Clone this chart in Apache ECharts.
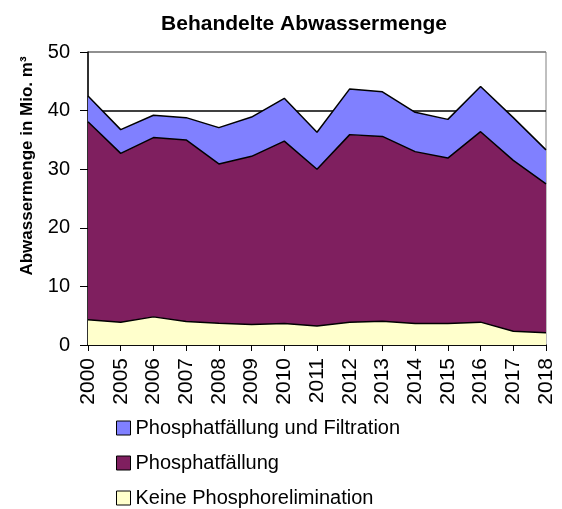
<!DOCTYPE html>
<html>
<head>
<meta charset="utf-8">
<script src="https://cdn.jsdelivr.net/npm/echarts@6/dist/echarts.min.js"></script>
<style>
  html, body { margin: 0; padding: 0; background: #fff; }
  #chart { width: 562px; height: 509px; }
</style>
</head>
<body>
<div id="chart"></div>
<script>
// data
const years = ['2000', '2005', '2006', '2007', '2008', '2009', '2010', '2011', '2012', '2013', '2014', '2015', '2016', '2017', '2018'];
const keinePhosphor = [4.3, 3.9, 4.8, 4.0, 3.7, 3.5, 3.65, 3.25, 3.9, 4.05, 3.65, 3.65, 3.9, 2.35, 2.1];
const phosphatfaellung = [33.8, 28.8, 30.6, 31.0, 27.2, 28.7, 31.15, 26.75, 32.0, 31.55, 29.35, 28.25, 32.5, 29.15, 25.4];
const mitFiltration = [4.4, 4.05, 3.8, 3.8, 6.2, 6.7, 7.3, 6.3, 7.8, 7.6, 6.7, 6.6, 7.7, 7.3, 5.8];
const yTicks = [0, 10, 20, 30, 40, 50];
const legendNames = ['Phosphatfällung und Filtration', 'Phosphatfällung', 'Keine Phosphorelimination'];

const chart = echarts.init(document.getElementById('chart'));
const font = '"Liberation Sans", Arial, sans-serif';

const areaSeries = (name, data, color) => ({
  name: name,
  type: 'line',
  stack: 'total',
  data: data,
  symbol: 'none',
  lineStyle: { color: '#000', width: 1.5 },
  itemStyle: { color: color },
  areaStyle: { color: color, opacity: 1 },
  emphasis: { disabled: true },
  animation: false,
});

chart.setOption({
  textStyle: { fontFamily: font },
  title: {
    text: 'Behandelte Abwassermenge',
    left: 299,
    textAlign: 'center',
    top: 9,
    textStyle: { fontFamily: font, fontSize: 21, fontWeight: 'bold', color: '#000' },
  },
  // y axis title sits above the middle of the axis, so it is drawn as a graphic
  graphic: [{
    type: 'text',
    x: 27,
    y: 166,
    rotation: Math.PI / 2,
    style: {
      text: 'Abwassermenge in Mio. m³',
      font: 'bold 17px ' + font,
      fill: '#000',
      align: 'center',
      verticalAlign: 'middle',
    },
  }],
  grid: {
    left: 88,
    right: 16,
    top: 52,
    bottom: 164,
    show: true,
    borderColor: '#808080',
    borderWidth: 1,
    backgroundColor: 'transparent',
  },
  legend: {
    orient: 'vertical',
    left: 116,
    top: 418,
    height: 100,
    padding: 0,
    itemGap: 15,
    itemWidth: 14,
    itemHeight: 14,
    icon: 'rect',
    data: legendNames,
    textStyle: { fontFamily: font, fontSize: 20, lineHeight: 20, color: '#000' },
    itemStyle: { borderColor: '#000', borderWidth: 1 },
    lineStyle: { width: 0 },
  },
  xAxis: {
    type: 'category',
    data: years,
    boundaryGap: false,
    axisLine: { lineStyle: { color: '#000', width: 1.5 } },
    axisTick: { alignWithLabel: true, length: 6, lineStyle: { color: '#000' } },
    axisLabel: { rotate: 90, fontSize: 21, color: '#000', margin: 13, interval: 0 },
  },
  yAxis: {
    type: 'value',
    min: yTicks[0],
    max: yTicks[yTicks.length - 1],
    interval: 10,
    axisLine: { show: true, lineStyle: { color: '#000', width: 1.5 } },
    axisTick: { show: true, length: 8, lineStyle: { color: '#000' } },
    axisLabel: { fontSize: 20, color: '#000', margin: 18 },
    splitLine: { show: true, lineStyle: { color: ['#000', '#000', '#000', '#000', '#000', '#808080'], width: 1.5 } },
  },
  series: [
    areaSeries('Keine Phosphorelimination', keinePhosphor, '#FFFFCC'),
    areaSeries('Phosphatfällung', phosphatfaellung, '#7F1F5F'),
    areaSeries('Phosphatfällung und Filtration', mitFiltration, '#8080FF'),
  ],
});
</script>
</body>
</html>
